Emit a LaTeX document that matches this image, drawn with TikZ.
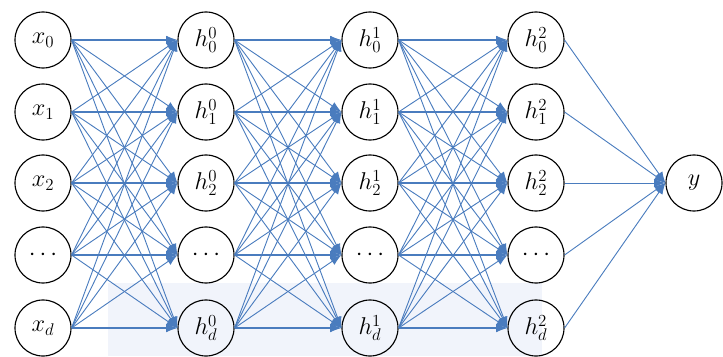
\documentclass[tikz,border=0pt]{standalone}
\usepackage{tikz}
\usetikzlibrary{arrows.meta,positioning}
\definecolor{edgeblue}{RGB}{74,124,190}
\definecolor{paleblue}{RGB}{241,244,251}

\begin{document}
\begin{tikzpicture}[x=0.025cm, y=-0.025cm,
  neuron/.style = {draw, circle, line width=0.8pt, minimum size=1.4cm, inner sep=0pt, font=\fontsize{18}{21}\selectfont},
  link/.style = {draw=edgeblue, line width=0.65pt, -{Latex[length=8pt, width=6pt]}},
  mainlink/.style = {link, line width=1.7pt}]
\useasboundingbox (0,0) rectangle (723,356);
\fill[paleblue] (108,283) rectangle (542,356);

% layers
\foreach \i/\yy/\s in {0/40/0, 1/112/1, 2/183/2, 4/328/d}{
  \node[neuron] (x\i)  at (43,\yy)  {$x_{\s}$};
  \node[neuron] (ha\i) at (206,\yy) {$h^0_{\s}$};
  \node[neuron] (hb\i) at (370,\yy) {$h^1_{\s}$};
  \node[neuron] (hc\i) at (536,\yy) {$h^2_{\s}$};
}
\node[neuron] (x3)  at (43,255)  {$\cdots$};
\node[neuron] (ha3) at (206,255) {$\cdots$};
\node[neuron] (hb3) at (370,255) {$\cdots$};
\node[neuron] (hc3) at (536,255) {$\cdots$};
\node[neuron] (y) at (694,183) {$y$};

% connections
\foreach \a/\b in {x/ha, ha/hb, hb/hc}{
  \foreach \i in {0,...,4}
    \foreach \j in {0,...,4}
      \draw[link] (\a\i.east) -- (\b\j.west);
  \foreach \i in {0,...,4}
    \draw[mainlink] (\a\i.east) -- (\b\i.west);
}
\foreach \i in {0,...,4}
  \draw[link] (hc\i.east) -- (y.west);
\end{tikzpicture}
\end{document}
